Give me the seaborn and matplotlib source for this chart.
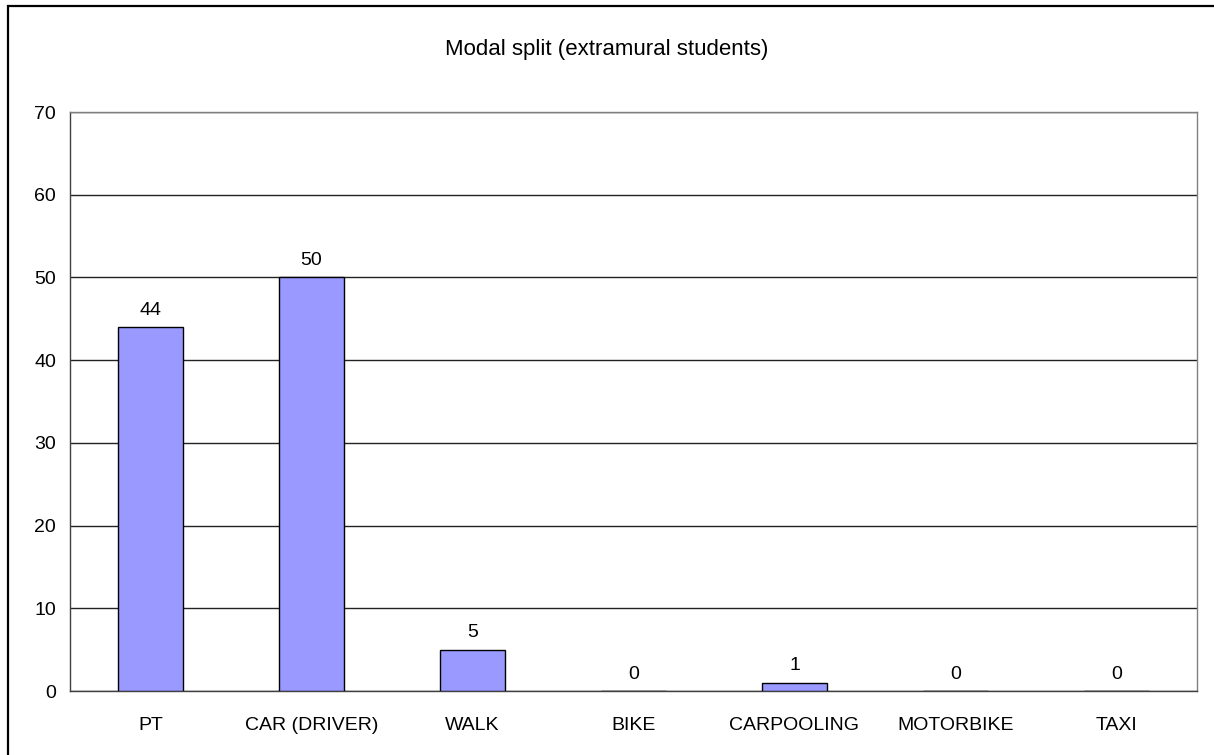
import matplotlib
matplotlib.use("Agg")
import matplotlib.pyplot as plt
import seaborn as sns
import pandas as pd
from matplotlib.patches import Rectangle

categories = ["PT", "CAR (DRIVER)", "WALK", "BIKE", "CARPOOLING", "MOTORBIKE", "TAXI"]
values = [44, 50, 5, 0, 1, 0, 0]
y_ticks = [0, 10, 20, 30, 40, 50, 60, 70]

sns.set_style("white")
plt.rcParams["font.family"] = ["Liberation Sans", "DejaVu Sans"]
plt.rcParams["text.color"] = "black"
plt.rcParams["xtick.color"] = "black"
plt.rcParams["ytick.color"] = "black"

FS = 14

df = pd.DataFrame({"mode": categories, "count": values})

fig = plt.figure(figsize=(12.14, 7.55), dpi=100)
ax = fig.add_axes([70 / 1214, 1 - 691 / 755, 1127 / 1214, 579 / 755])

sns.barplot(data=df, x="mode", y="count", color="#9999FF", width=0.4,
            edgecolor="black", linewidth=1.0, saturation=1, ax=ax, zorder=3)

ax.set_xlim(-0.5, len(categories) - 0.5)
ax.set_ylim(0, 70)
ax.set_yticks(y_ticks)
ax.yaxis.grid(True, color="#222222", linewidth=1.0, zorder=0)
ax.set_xlabel("")
ax.set_ylabel("")

# tick marks between categories, labels centred
ax.set_xticks([i + 0.5 for i in range(-1, len(categories))], minor=False)
ax.set_xticklabels([])
ax.set_xticks(range(len(categories)), minor=True)
ax.set_xticklabels(categories, minor=True)
ax.tick_params(axis="x", which="major", length=6, width=1, color="#404040", direction="out")
ax.tick_params(axis="x", which="minor", length=0, pad=19, labelsize=FS)
ax.tick_params(axis="y", length=6, width=1, color="#404040", direction="out", labelsize=FS, pad=4)

ax.spines["top"].set_color("#808080")
ax.spines["top"].set_zorder(5)
ax.spines["right"].set_color("#808080")
ax.spines["left"].set_color("#404040")
ax.spines["bottom"].set_color("#404040")
for s in ax.spines.values():
    s.set_linewidth(1.0)

for i, v in enumerate(values):
    ax.annotate(str(v), (i, v), xytext=(0, 6), textcoords="offset points",
                ha="center", va="bottom", fontsize=FS)

fig.text(0.5, 1 - 49 / 755, "Modal split (extramural students)", ha="center",
         va="center", fontsize=16)

fig.patches.append(Rectangle((8 / 1214, -0.1), 1.2, 1 - 6 / 755 + 0.1,
                             transform=fig.transFigure, fill=False,
                             edgecolor="black", linewidth=1.6))

fig.savefig("out.png", dpi=100)
